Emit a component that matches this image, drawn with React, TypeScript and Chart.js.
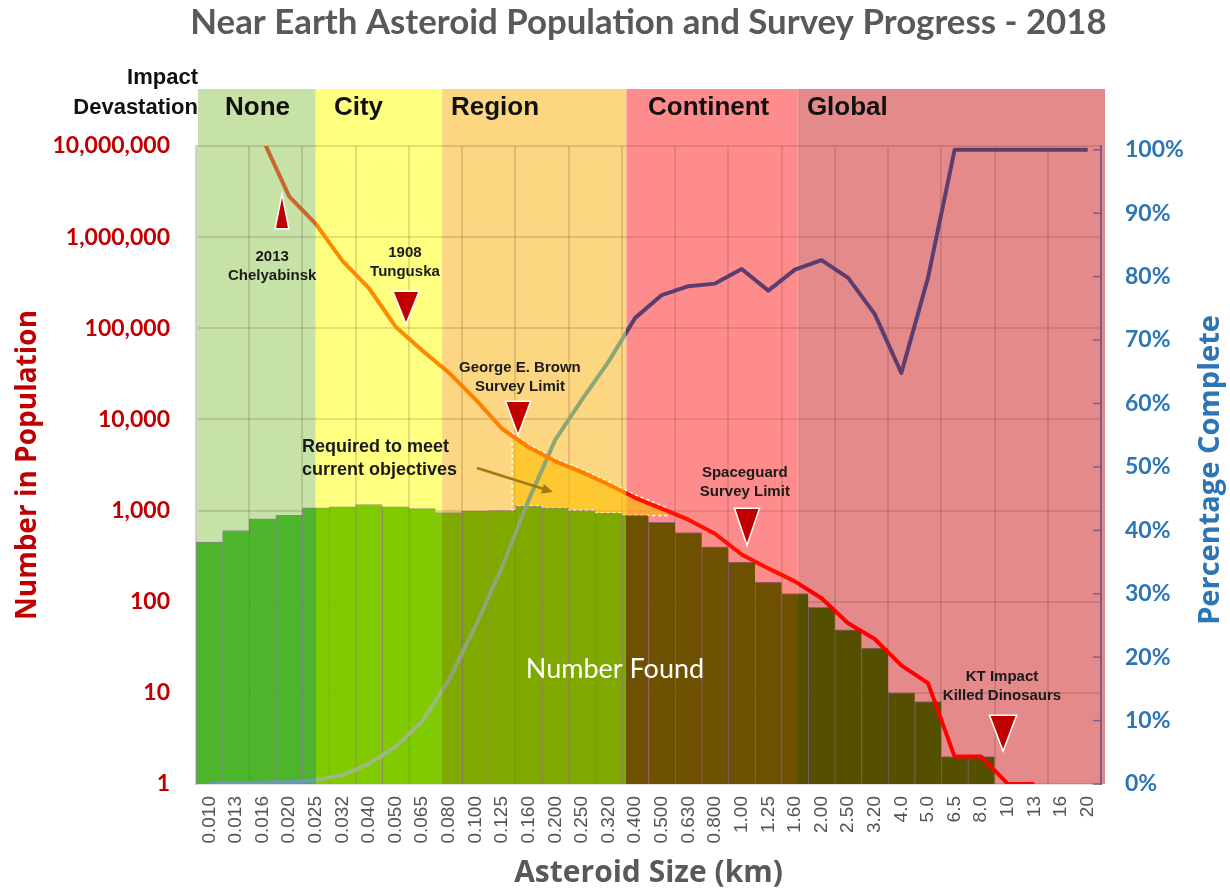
import React, { useEffect, useRef } from 'react';
import { Chart, registerables } from 'chart.js';

Chart.register(...registerables);

// ---------- data ----------
const sizeLabels = [
  '0.010', '0.013', '0.016', '0.020', '0.025', '0.032', '0.040', '0.050', '0.065', '0.080',
  '0.100', '0.125', '0.160', '0.200', '0.250', '0.320', '0.400', '0.500', '0.630', '0.800',
  '1.00', '1.25', '1.60', '2.00', '2.50', '3.20', '4.0', '5.0', '6.5', '8.0',
  '10', '13', '16', '20',
];

const numberFound = [
  450, 605, 810, 885, 1075, 1100, 1165, 1100, 1050, 950,
  980, 1000, 1120, 1070, 1000, 940, 885, 745, 575, 400,
  272, 164, 123, 87, 49, 31, 10, 8, 2, 2,
  null, null, null, null,
];

const population = [
  null, null, 12000000, 2800000, 1400000, 550000, 275000, 104000, 57000, 32600,
  16600, 7900, 4950, 3470, 2640, 1930, 1380, 1050, 795, 557,
  330, 232, 167, 109, 58, 39, 20, 12.8, 2, 2,
  1, 1, null, null,
];

const percentComplete = [
  0, 0.1, 0.2, 0.3, 0.6, 1.4, 3.2, 5.9, 9.9, 16.4,
  24.9, 34.2, 44.8, 54.3, 60.6, 66.6, 73.5, 77.1, 78.5, 78.9,
  81.2, 77.8, 81.1, 82.6, 79.8, 74.1, 64.8, 79.8, 100, 100,
  100, 100, 100, 100,
];

const populationTicks = [1, 10, 100, 1000, 10000, 100000, 1000000, 10000000];
const percentTicks = [0, 10, 20, 30, 40, 50, 60, 70, 80, 90, 100];

// impact devastation zones (boundaries in category-index units)
const zoneNames = ['None', 'City', 'Region', 'Continent', 'Global'];
const zoneStarts = [-0.5, 4.0, 8.75, 15.67, 22.1];
const zoneLabelAt = [0.59, 4.68, 9.08, 16.48, 22.45];
const zoneBg = ['#c6e2a6', '#ffff80', '#fcd680', '#ff8c8c', '#e48a8a'];
const zoneBar = ['#4db52b', '#7fcb00', '#80a900', '#6d5100', '#555000'];
const zonePop = ['#c8682e', '#ff8a00', '#ff8000', '#ff1000', '#ff0000'];
const zonePct = ['#6a9cb0', '#9cba80', '#8ea676', '#5b3d70', '#5b3d70'];

// annotations: [category index, population value]
const markers = [
  { lines: ['2013', 'Chelyabinsk'], textAt: [2.36, 606000], apex: [2.73, 2690000], dir: 'up', w: 12, h: 30 },
  { lines: ['1908', 'Tunguska'], textAt: [7.35, 670000], apex: [7.39, 117000], dir: 'down', w: 24, h: 30 },
  { lines: ['George E. Brown', 'Survey Limit'], textAt: [11.67, 36700], apex: [11.6, 7100], dir: 'down', w: 23, h: 31 },
  { lines: ['Spaceguard', 'Survey Limit'], textAt: [20.12, 2580], apex: [20.2, 441], dir: 'down', w: 23, h: 34 },
  { lines: ['KT Impact', 'Killed Dinosaurs'], textAt: [29.78, 14.9], apex: [29.82, 2.42], dir: 'down', w: 25, h: 33 },
];
const objectiveStart = 11.38;
const objectiveEnd = 17.2;
const objectiveText = ['Required to meet', 'current objectives'];
const objectiveTextAt = [3.48, 4990];
const arrowFrom = [10.06, 2930];
const arrowTo = [12.91, 1600];
const foundLabelAt = [15.24, 18.3];

const GRID_COLOR = 'rgba(90,50,40,0.16)';

function zoneGradient(chart: any, colors: string[]) {
  const { ctx, chartArea, scales } = chart;
  if (!chartArea || !scales || !scales.x) return colors[2];
  const w = chart.width;
  const g = ctx.createLinearGradient(0, 0, w, 0);
  g.addColorStop(0, colors[0]);
  zoneStarts.slice(1).forEach((v, k) => {
    const b = Math.min(1, Math.max(0, scales.x.getPixelForValue(v) / w));
    g.addColorStop(b, colors[k]);
    g.addColorStop(b, colors[k + 1]);
  });
  g.addColorStop(1, colors[colors.length - 1]);
  return g;
}

function drawText(ctx: CanvasRenderingContext2D, s: string, x: number, y: number, font: string, color: string, align: CanvasTextAlign = 'center') {
  ctx.font = font;
  ctx.fillStyle = color;
  ctx.textAlign = align;
  ctx.textBaseline = 'middle';
  ctx.fillText(s, x, y);
}

const overlayPlugin = {
  id: 'overlay',
  beforeDraw(chart: any) {
    const { ctx, chartArea, scales } = chart;
    const top = chartArea.top - 57;
    ctx.save();
    zoneStarts.forEach((s, i) => {
      const x0 = i === 0 ? chartArea.left + 2 : scales.x.getPixelForValue(s);
      const x1 = i === zoneStarts.length - 1 ? chartArea.right + 4 : scales.x.getPixelForValue(zoneStarts[i + 1]);
      ctx.fillStyle = zoneBg[i];
      ctx.fillRect(x0, top, x1 - x0, chartArea.bottom - top);
    });
    ctx.restore();
  },
  beforeDatasetsDraw(chart: any) {
    const { ctx, scales } = chart;
    const pop = chart.getDatasetMeta(2).data;
    const bars = chart.getDatasetMeta(0).data;
    const lerp = (idx: number) => {
      const i0 = Math.floor(idx);
      const t = idx - i0;
      const a = pop[i0], b = pop[i0 + 1];
      return { x: a.x + (b.x - a.x) * t, y: a.y + (b.y - a.y) * t };
    };
    const s = lerp(objectiveStart);
    const e = lerp(objectiveEnd);
    const pts: { x: number; y: number }[] = [];
    pts.push({ x: s.x, y: s.y - 3 });
    for (let i = Math.ceil(objectiveStart); i <= Math.floor(objectiveEnd); i++) pts.push({ x: pop[i].x, y: pop[i].y - 3 });
    pts.push({ x: e.x, y: e.y - 3 });
    const firstBar = Math.round(objectiveStart);
    const lastBar = Math.floor(objectiveEnd) - 1;
    for (let i = lastBar; i >= firstBar; i--) {
      const right = i === lastBar ? e.x : scales.x.getPixelForValue(i + 0.5);
      const left = i === firstBar ? s.x : scales.x.getPixelForValue(i - 0.5);
      pts.push({ x: right, y: bars[i].y }, { x: left, y: bars[i].y });
    }
    ctx.save();
    ctx.beginPath();
    pts.forEach((p, k) => (k === 0 ? ctx.moveTo(p.x, p.y) : ctx.lineTo(p.x, p.y)));
    ctx.closePath();
    ctx.fillStyle = 'rgba(255,190,0,0.6)';
    ctx.fill();
    ctx.setLineDash([3, 3]);
    ctx.strokeStyle = '#ffffff';
    ctx.lineWidth = 1.5;
    ctx.stroke();
    ctx.restore();
  },
  afterDatasetsDraw(chart: any) {
    const { ctx, scales } = chart;
    const px = (i: number) => scales.x.getPixelForValue(i);
    const py = (v: number) => scales.y.getPixelForValue(v);
    ctx.save();
    // markers
    markers.forEach((m) => {
      const ax = px(m.apex[0]);
      const ay = py(m.apex[1]);
      const by = m.dir === 'down' ? ay - m.h : ay + m.h;
      ctx.beginPath();
      ctx.moveTo(ax, ay);
      ctx.lineTo(ax - m.w / 2, by);
      ctx.lineTo(ax + m.w / 2, by);
      ctx.closePath();
      ctx.lineJoin = 'miter';
      ctx.strokeStyle = '#ffffff';
      ctx.lineWidth = 3;
      ctx.stroke();
      ctx.fillStyle = '#c00000';
      ctx.fill();
      const tx = px(m.textAt[0]);
      const ty = py(m.textAt[1]);
      m.lines.forEach((l, k) => drawText(ctx, l, tx, ty + k * 18.5, 'bold 15px "Liberation Sans", Arial, sans-serif', '#1a1a1a'));
    });
    // objective text + arrow
    const ox = px(objectiveTextAt[0]);
    const oy = py(objectiveTextAt[1]);
    objectiveText.forEach((l, k) => drawText(ctx, l, ox, oy + k * 23, 'bold 18px "Liberation Sans", Arial, sans-serif', '#1a1a1a', 'left'));
    const a0x = px(arrowFrom[0]), a0y = py(arrowFrom[1]);
    const a1x = px(arrowTo[0]), a1y = py(arrowTo[1]);
    const ang = Math.atan2(a1y - a0y, a1x - a0x);
    ctx.strokeStyle = '#a07a12';
    ctx.fillStyle = '#a07a12';
    ctx.lineWidth = 2.5;
    ctx.setLineDash([]);
    ctx.beginPath();
    ctx.moveTo(a0x, a0y);
    ctx.lineTo(a1x - 8 * Math.cos(ang), a1y - 8 * Math.sin(ang));
    ctx.stroke();
    ctx.beginPath();
    ctx.moveTo(a1x, a1y);
    ctx.lineTo(a1x - 11 * Math.cos(ang) + 5 * Math.sin(ang), a1y - 11 * Math.sin(ang) - 5 * Math.cos(ang));
    ctx.lineTo(a1x - 11 * Math.cos(ang) - 5 * Math.sin(ang), a1y - 11 * Math.sin(ang) + 5 * Math.cos(ang));
    ctx.closePath();
    ctx.fill();
    // number found
    drawText(ctx, 'Number Found', px(foundLabelAt[0]), py(foundLabelAt[1]), '27px Lato, "Open Sans", sans-serif', '#ffffff');
    ctx.restore();
  },
  afterDraw(chart: any) {
    const { ctx, chartArea, scales } = chart;
    ctx.save();
    // title fitted to width
    const title = 'Near Earth Asteroid Population and Survey Progress - 2018';
    ctx.font = 'bold 30px Lato, "Open Sans", sans-serif';
    const wMeasured = ctx.measureText(title).width;
    const size = Math.max(20, Math.min(36, 30 * 916 / wMeasured));
    drawText(ctx, title, (chartArea.left + chartArea.right) / 2, 23, `bold ${size.toFixed(1)}px Lato, "Open Sans", sans-serif`, '#595959');
    // zone headers
    drawText(ctx, 'Impact', chartArea.left + 2, chartArea.top - 68, 'bold 22px "Liberation Sans", Arial, sans-serif', '#111111', 'right');
    drawText(ctx, 'Devastation', chartArea.left + 2, chartArea.top - 38, 'bold 22px "Liberation Sans", Arial, sans-serif', '#111111', 'right');
    zoneNames.forEach((n, i) => {
      drawText(ctx, n, scales.x.getPixelForValue(zoneLabelAt[i]), chartArea.top - 38, 'bold 26px "Liberation Sans", Arial, sans-serif', '#111111', 'left');
    });
    // right axis inner tick marks
    ctx.strokeStyle = '#7d5f8c';
    ctx.lineWidth = 1.5;
    percentTicks.forEach((v) => {
      const y = scales.y1.getPixelForValue(v);
      ctx.beginPath();
      ctx.moveTo(chartArea.right - 8, y);
      ctx.lineTo(chartArea.right, y);
      ctx.stroke();
    });
    // right axis title
    ctx.translate(1211, 470);
    ctx.rotate(-Math.PI / 2);
    drawText(ctx, 'Percentage Complete', 0, 0, 'bold 29px "Open Sans", Lato, sans-serif', '#2e75b6');
    ctx.restore();
  },
};

export default function App() {
  const canvasRef = useRef<HTMLCanvasElement | null>(null);

  useEffect(() => {
    const canvas = canvasRef.current;
    if (!canvas) return;
    const chart = new Chart(canvas, {
      type: 'bar',
      data: {
        labels: sizeLabels,
        datasets: [
          {
            type: 'bar',
            label: 'Number Found',
            data: numberFound as any,
            yAxisID: 'y',
            order: 2,
            backgroundColor: (c: any) => zoneGradient(c.chart, zoneBar),
            borderColor: 'rgba(70,60,110,0.55)',
            borderWidth: { left: 1, top: 1, right: 0, bottom: 0 },
            borderSkipped: false,
            barPercentage: 1,
            categoryPercentage: 1,
          },
          {
            type: 'line',
            label: 'Percentage Complete',
            data: percentComplete as any,
            yAxisID: 'y1',
            order: 1,
            borderColor: (c: any) => zoneGradient(c.chart, zonePct),
            borderWidth: 4,
            pointRadius: 0,
            tension: 0,
            borderJoinStyle: 'round',
            fill: false,
          },
          {
            type: 'line',
            label: 'Number in Population',
            data: population as any,
            yAxisID: 'y',
            order: 0,
            borderColor: (c: any) => zoneGradient(c.chart, zonePop),
            borderWidth: 4,
            pointRadius: 0,
            tension: 0,
            borderJoinStyle: 'round',
            fill: false,
          },
        ],
      },
      options: {
        responsive: false,
        animation: false,
        layout: { padding: { top: 146, left: 0, right: 0, bottom: 0 } },
        plugins: {
          legend: { display: false },
          tooltip: { enabled: false },
          title: { display: false },
        },
        scales: {
          x: {
            type: 'category',
            offset: true,
            grid: {
              offset: true,
              color: (c: any) => (c.index % 2 === 0 ? GRID_COLOR : 'rgba(0,0,0,0)'),
              lineWidth: 2,
              drawTicks: false,
            },
            border: { display: false },
            ticks: {
              autoSkip: false,
              minRotation: 90,
              maxRotation: 90,
              padding: 12,
              color: '#555555',
              font: { family: '"Liberation Sans", Arial, sans-serif', size: 19 },
            },
            title: {
              display: true,
              text: 'Asteroid Size (km)',
              color: '#595959',
              font: { family: '"Open Sans", Lato, sans-serif', size: 30, weight: 'bold' },
              padding: { top: 0, bottom: 1 },
            },
            afterFit: (s: any) => { s.height = 108; },
          },
          y: {
            type: 'logarithmic',
            position: 'left',
            min: 1,
            max: 10000000,
            afterBuildTicks: (s: any) => { s.ticks = populationTicks.map((v) => ({ value: v })); },
            ticks: {
              callback: (v: any) => Number(v).toLocaleString('en-US'),
              color: '#c00000',
              font: { family: 'Lato, "Open Sans", sans-serif', size: 23, weight: 'bold' },
              padding: 26,
            },
            grid: { color: GRID_COLOR, lineWidth: 2, drawTicks: false },
            border: { color: '#d0d0d0', width: 3 },
            title: {
              display: true,
              text: 'Number in Population',
              color: '#c00000',
              font: { family: '"Open Sans", Lato, sans-serif', size: 28, weight: 'bold' },
              padding: 11,
            },
            afterFit: (s: any) => { s.width = 196; },
          },
          y1: {
            type: 'linear',
            position: 'right',
            min: 0,
            max: 100.6,
            afterBuildTicks: (s: any) => { s.ticks = percentTicks.map((v) => ({ value: v })); },
            ticks: {
              callback: (v: any) => `${v}%`,
              color: '#2e75b6',
              font: { family: 'Lato, "Open Sans", sans-serif', size: 23, weight: 'bold' },
              padding: 24,
            },
            grid: { drawOnChartArea: false, drawTicks: false },
            border: { color: '#7d5f8c', width: 2 },
            afterFit: (s: any) => { s.width = 129; },
          },
        },
      } as any,
      plugins: [overlayPlugin],
    } as any);
    return () => chart.destroy();
  }, []);

  return (
    <div style={{ position: 'absolute', left: 0, top: 0, width: 1230, height: 892, background: '#ffffff' }}>
      <canvas ref={canvasRef} width={1230} height={892} style={{ display: 'block' }} />
    </div>
  );
}
